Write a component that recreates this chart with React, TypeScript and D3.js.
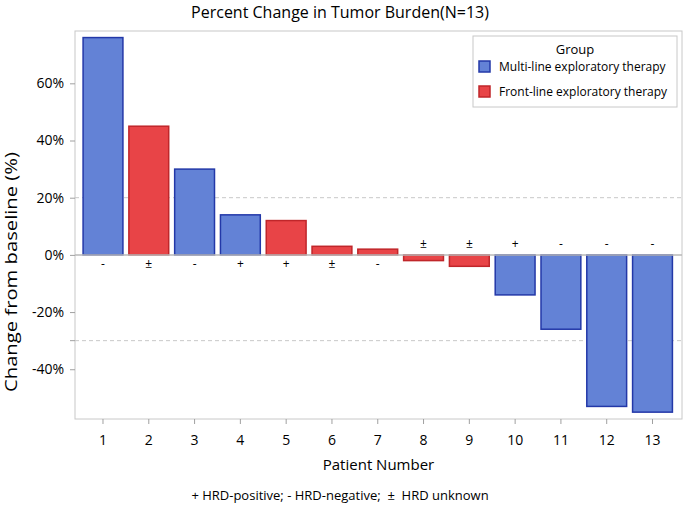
import { useEffect, useRef } from "react";
import * as d3 from "d3";

const patients = ["1", "2", "3", "4", "5", "6", "7", "8", "9", "10", "11", "12", "13"];
const changes = [76, 45, 30, 14, 12, 3, 2, -2, -4, -14, -26, -53, -55];
const groups = ["Multi", "Front", "Multi", "Multi", "Front", "Front", "Front", "Front", "Front", "Multi", "Multi", "Multi", "Multi"];
const hrd = ["-", "±", "-", "+", "+", "±", "-", "±", "±", "+", "-", "-", "-"];
const yTicks = [-40, -20, 0, 20, 40, 60];
const refLines = [20, -30];
const legendItems = [
  { key: "Multi", label: "Multi-line exploratory therapy" },
  { key: "Front", label: "Front-line exploratory therapy" },
];

const fills: Record<string, string> = { Multi: "#6382d6", Front: "#e84447" };
const strokes: Record<string, string> = { Multi: "#2338a8", Front: "#c0262a" };

export default function App() {
  const svgRef = useRef<SVGSVGElement>(null);

  useEffect(() => {
    if (!svgRef.current) return;
    const width = 685;
    const height = 505;
    const m = { left: 75, right: 3, top: 31, bottom: 86 };
    const font = "'Open Sans', 'DejaVu Sans', sans-serif";

    d3.select(svgRef.current).selectAll("*").remove();
    const svg = d3.select(svgRef.current).attr("width", width).attr("height", height);
    svg.append("rect").attr("width", width).attr("height", height).attr("fill", "#fff");

    const x = d3
      .scaleBand()
      .domain(patients)
      .range([m.left + 3.5, width - m.right - 5])
      .paddingInner(0.13)
      .paddingOuter(0.1);

    const y = d3
      .scaleLinear()
      .domain([-57.4, 78.3])
      .range([height - m.bottom, m.top]);

    // frame
    svg
      .append("rect")
      .attr("x", m.left)
      .attr("y", m.top)
      .attr("width", width - m.right - m.left)
      .attr("height", height - m.bottom - m.top)
      .attr("fill", "none")
      .attr("stroke", "#c8c8c8");

    // reference lines
    svg
      .selectAll("line.ref")
      .data(refLines)
      .join("line")
      .attr("x1", m.left)
      .attr("x2", width - m.right)
      .attr("y1", (d) => y(d))
      .attr("y2", (d) => y(d))
      .attr("stroke", "#c8c8c8")
      .attr("stroke-dasharray", "4,3");

    // bars
    const data = patients.map((p, i) => ({ p, v: changes[i], g: groups[i], h: hrd[i] }));
    svg
      .selectAll("rect.bar")
      .data(data)
      .join("rect")
      .attr("x", (d) => x(d.p)!)
      .attr("width", x.bandwidth())
      .attr("y", (d) => y(Math.max(0, d.v)))
      .attr("height", (d) => Math.abs(y(d.v) - y(0)))
      .attr("fill", (d) => fills[d.g])
      .attr("stroke", (d) => strokes[d.g])
      .attr("stroke-width", 1.5);

    // zero line
    svg
      .append("line")
      .attr("x1", m.left)
      .attr("x2", width - m.right)
      .attr("y1", y(0))
      .attr("y2", y(0))
      .attr("stroke", "#b8b8b8")
      .attr("stroke-width", 1.5);

    // HRD labels
    svg
      .selectAll("text.hrd")
      .data(data)
      .join("text")
      .attr("x", (d) => x(d.p)! + x.bandwidth() / 2)
      .attr("y", (d) => (d.v >= 0 ? y(0) + 13 : y(0) - 7))
      .attr("text-anchor", "middle")
      .attr("font-family", font)
      .attr("font-size", 12)
      .attr("fill", "#000")
      .text((d) => d.h);

    // y axis
    const yAxis = svg
      .append("g")
      .attr("transform", `translate(${m.left},0)`)
      .call(
        d3
          .axisLeft(y)
          .tickValues(yTicks)
          .tickSize(5)
          .tickFormat((d) => `${d}%`)
      );
    yAxis.select(".domain").remove();
    yAxis.selectAll("line").attr("stroke", "#a0a0a0");
    yAxis
      .selectAll("text")
      .attr("font-family", font)
      .attr("font-size", 14)
      .attr("fill", "#000")
      .attr("dx", -3);
    // minor tick at -30
    svg
      .append("line")
      .attr("x1", m.left - 5)
      .attr("x2", m.left)
      .attr("y1", y(-30))
      .attr("y2", y(-30))
      .attr("stroke", "#a0a0a0");

    // x axis
    const xAxis = svg
      .append("g")
      .attr("transform", `translate(0,${height - m.bottom})`)
      .call(d3.axisBottom(x).tickSize(5));
    xAxis.select(".domain").remove();
    xAxis.selectAll("line").attr("stroke", "#a0a0a0");
    xAxis
      .selectAll("text")
      .attr("font-family", font)
      .attr("font-size", 14)
      .attr("fill", "#000")
      .attr("dy", "1.25em");

    // title & labels
    svg
      .append("text")
      .attr("x", 340)
      .attr("y", 18)
      .attr("text-anchor", "middle")
      .attr("font-family", font)
      .attr("font-size", 16)
      .attr("fill", "#000")
      .text("Percent Change in Tumor Burden(N=13)");

    svg
      .append("text")
      .attr("x", (m.left + width - m.right) / 2)
      .attr("y", 470)
      .attr("text-anchor", "middle")
      .attr("font-family", font)
      .attr("font-size", 15)
      .attr("fill", "#000")
      .text("Patient Number");

    svg
      .append("text")
      .attr("transform", "translate(17,272) rotate(-90)")
      .attr("text-anchor", "middle")
      .attr("font-family", font)
      .attr("font-size", 17)
      .attr("textLength", 240)
      .attr("lengthAdjust", "spacingAndGlyphs")
      .attr("fill", "#000")
      .text("Change from baseline (%)");

    svg
      .append("text")
      .attr("x", 340)
      .attr("y", 500)
      .attr("text-anchor", "middle")
      .attr("font-family", font)
      .attr("font-size", 13)
      .attr("fill", "#000")
      .attr("xml:space", "preserve")
      .text("+ HRD-positive; - HRD-negative;  ±  HRD unknown");

    // legend
    const lg = svg.append("g").attr("transform", "translate(473,36)");
    lg.append("rect")
      .attr("width", 204)
      .attr("height", 71)
      .attr("fill", "#fff")
      .attr("stroke", "#c8c8c8");
    lg.append("text")
      .attr("x", 102)
      .attr("y", 18)
      .attr("text-anchor", "middle")
      .attr("font-family", font)
      .attr("font-size", 13)
      .attr("fill", "#000")
      .text("Group");
    const items = lg
      .selectAll("g.item")
      .data(legendItems)
      .join("g")
      .attr("transform", (_, i) => `translate(6,${25 + i * 25})`);
    items
      .append("rect")
      .attr("width", 11)
      .attr("height", 11)
      .attr("fill", (d) => fills[d.key])
      .attr("stroke", (d) => strokes[d.key])
      .attr("stroke-width", 1.5);
    items
      .append("text")
      .attr("x", 20)
      .attr("y", 10)
      .attr("font-family", font)
      .attr("font-size", 12)
      .attr("fill", "#000")
      .text((d) => d.label);
  }, []);

  return (
    <svg
      ref={svgRef}
      style={{ display: "block", position: "absolute", left: 0, top: 0 }}
    />
  );
}
